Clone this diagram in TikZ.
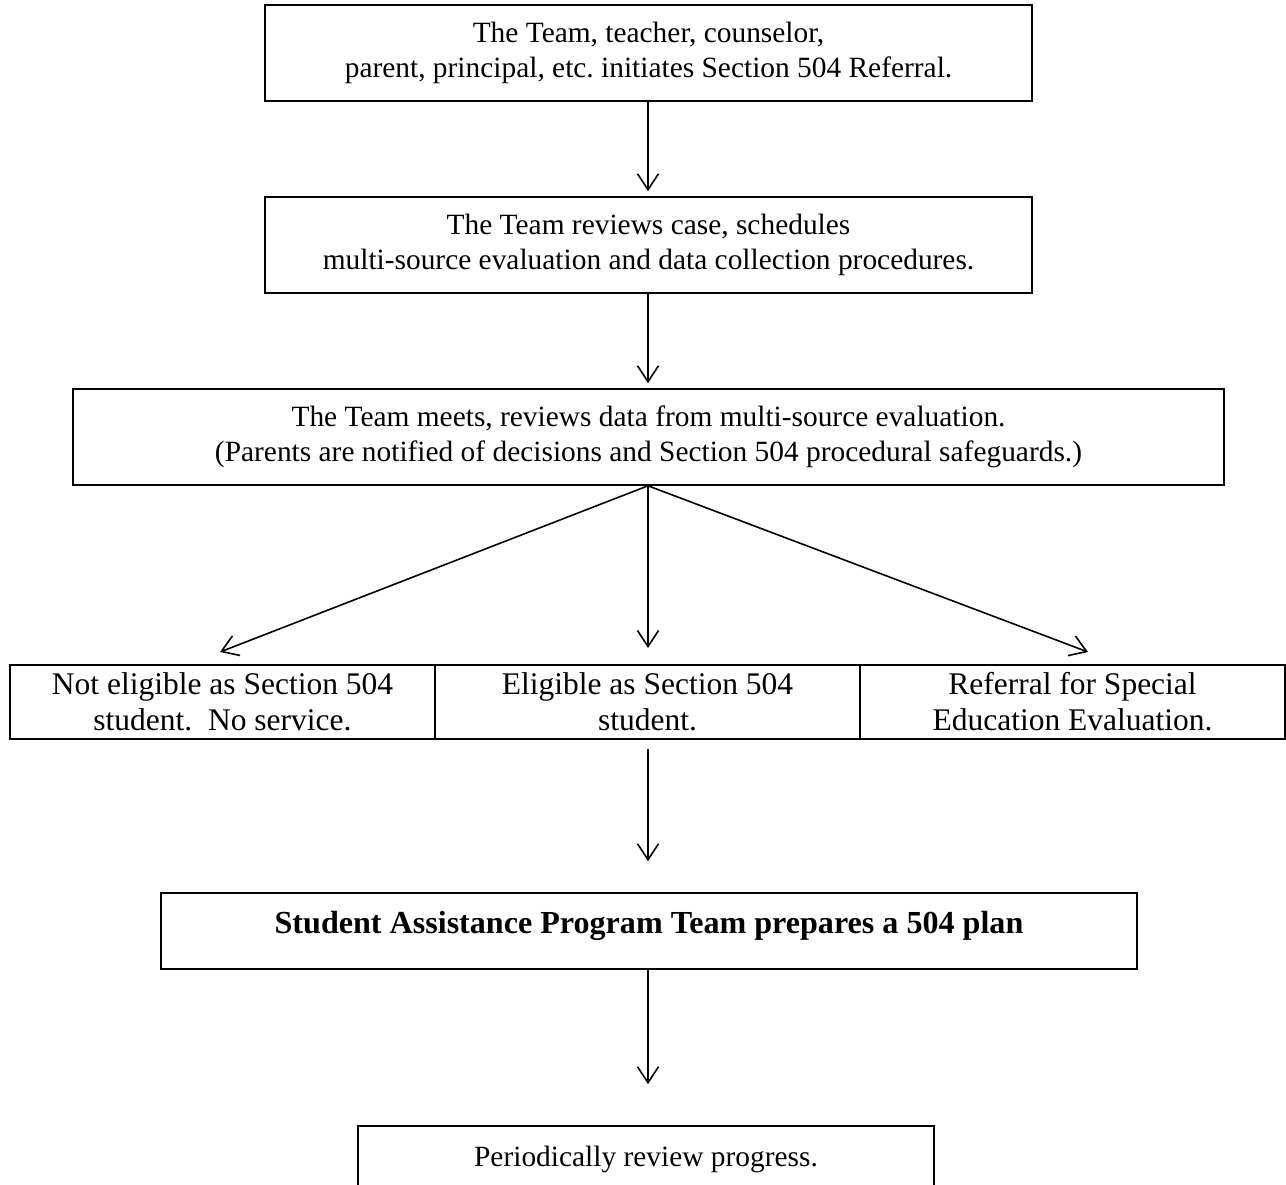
\documentclass[tikz,border=0pt]{standalone}
\usepackage{fontspec}
\setmainfont{Liberation Serif}
\usetikzlibrary{arrows.meta}
\frenchspacing
\begin{document}
\begin{tikzpicture}[x=1pt,y=-1pt,
  box/.style={draw, line width=1.6pt, align=center, inner sep=0pt,
    font=\fontsize{29.4}{35}\selectfont},
  rowbox/.style={draw, line width=1.6pt, align=center, inner sep=0pt,
    minimum width=425pt, minimum height=74pt,
    font=\fontsize{31.5}{36}\selectfont},
  conn/.style={line width=1.6pt, -{Straight Barb[length=16pt,width=21pt,line width=1.6pt]}}
]
\useasboundingbox (0,0) rectangle (1286,1185);
\node[box, minimum width=767pt, minimum height=96pt] (b1) at (648.5,53)
  {The Team, teacher, counselor,\\parent, principal, etc. initiates Section 504 Referral.};
\node[box, minimum width=767pt, minimum height=96pt] (b2) at (648.5,245)
  {The Team reviews case, schedules\\multi-source evaluation and data collection procedures.};
\node[box, minimum width=1151pt, minimum height=96pt] (b3) at (648.5,437)
  {The Team meets, reviews data from multi-source evaluation.\\(Parents are notified of decisions and Section 504 procedural safeguards.)};
\node[rowbox] (r1) at (222.5,702) {Not eligible as Section 504\\student.\ \ No service.};
\node[rowbox] (r2) at (647.5,702) {Eligible as Section 504\\student.};
\node[rowbox] (r3) at (1072.5,702) {Referral for Special\\Education Evaluation.};
\node[box, minimum width=976pt, minimum height=76pt] (b5) at (649,931) {};
\node[font=\fontsize{32.1}{36}\selectfont\bfseries, inner sep=0pt] (b5t) at (649,926)
  {Student Assistance Program Team prepares a 504 plan};
\node[box, minimum width=576pt, minimum height=66pt] (b6) at (646,1159)
  {Periodically review progress.};
\coordinate (tl) at (220,652);
\coordinate (tm) at (648,648);
\coordinate (tr) at (1088,652);
\draw[conn, shorten >=5pt] (b1.south -| 648,0) -- (b2.north -| 648,0);
\draw[conn, shorten >=5pt] (b2.south -| 648,0) -- (b3.north -| 648,0);
\draw[conn] (b3.south -| 648,0) -- (tl);
\draw[conn] (b3.south -| 648,0) -- (tm);
\draw[conn] (b3.south -| 648,0) -- (tr);
\draw[conn, shorten <=9pt, shorten >=31pt] (r2.south -| 648,0) -- (b5.north -| 648,0);
\draw[conn, shorten >=41pt] (b5.south -| 648,0) -- (b6.north -| 648,0);
\end{tikzpicture}
\end{document}
